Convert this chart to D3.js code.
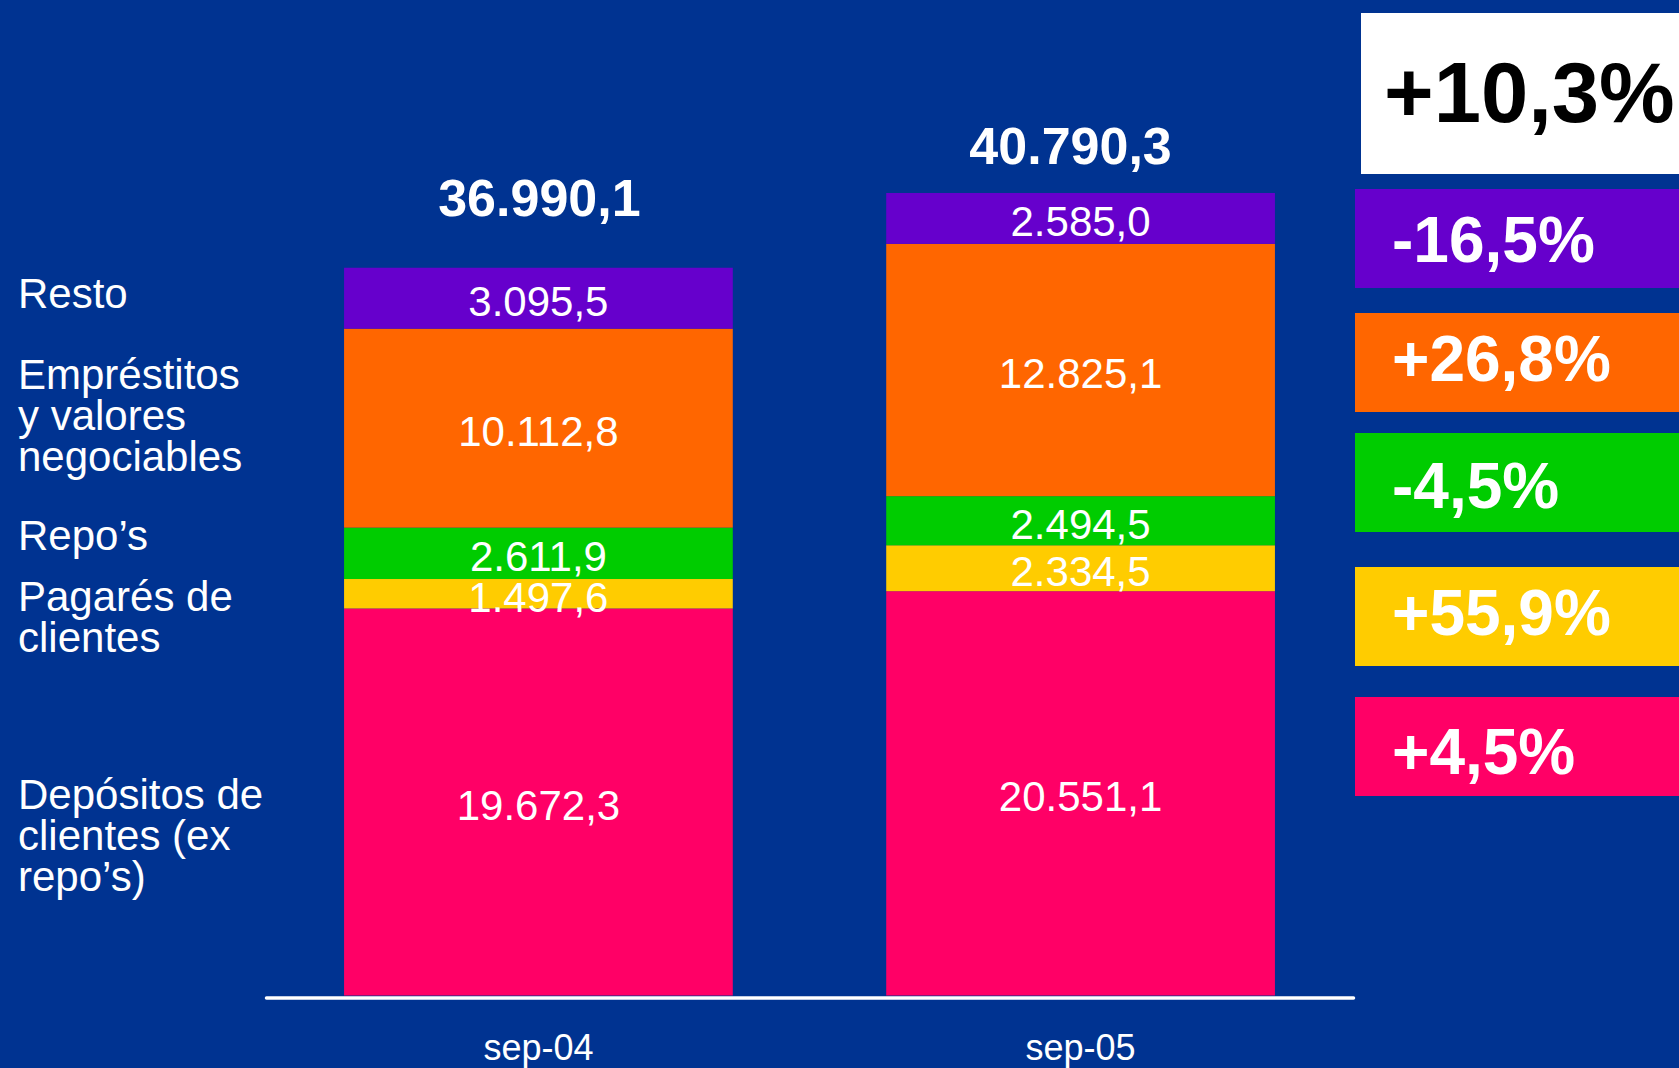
<!DOCTYPE html>
<html>
<head>
<meta charset="utf-8">
<script src="https://cdn.jsdelivr.net/npm/d3@7"></script>
<style>
html, body { margin: 0; padding: 0; background: #003391; overflow: hidden; }
svg { display: block; }
text { font-family: "Liberation Sans", Arial, Helvetica, sans-serif; }
</style>
</head>
<body>
<svg id="chart"></svg>
<script>
var width = 1679;
var height = 1068;

// data
var periods = ['sep-04', 'sep-05'];
var depositos = [19672.3, 20551.1];
var pagares = [1497.6, 2334.5];
var repos = [2611.9, 2494.5];
var emprestitos = [10112.8, 12825.1];
var resto = [3095.5, 2585.0];
var totals = [36990.1, 40790.3];

var keys = ['depositos', 'pagares', 'repos', 'emprestitos', 'resto'];
var seriesLabels = [
  ['Depósitos de', 'clientes (ex', 'repo’s)'],
  ['Pagarés de', 'clientes'],
  ['Repo’s'],
  ['Empréstitos', 'y valores', 'negociables'],
  ['Resto']
];
var changes = ['+4,5%', '+55,9%', '-4,5%', '+26,8%', '-16,5%'];
var totalChange = '+10,3%';

var colors = ['#ff0066', '#ffcc00', '#00cc00', '#ff6600', '#6600cc'];

// layout tweaks (hand placed on the original slide)
var labelShift = [7, 17, -3, -39, 10];
var totalLift = [52, 29];
var totalDx = [1, -10];
var boxTops = [697, 567, 433, 313, 189];
var boxText = [77, 68, 75, 68, 73];

var table = periods.map(function(p, i) {
  return {
    period: p,
    depositos: depositos[i],
    pagares: pagares[i],
    repos: repos[i],
    emprestitos: emprestitos[i],
    resto: resto[i]
  };
});

var series = d3.stack().keys(keys)(table);

var locale = d3.formatLocale({ decimal: ',', thousands: '.', grouping: [3], currency: ['', ' €'] });
var fmt = locale.format(',.1f');

var svg = d3.select('#chart')
    .attr('width', width)
    .attr('height', height);

svg.append('rect')
    .attr('width', width)
    .attr('height', height)
    .attr('fill', '#003391');

var xScale = d3.scaleBand()
    .domain(periods)
    .range([266, 1353])
    .paddingInner(0.283)
    .paddingOuter(0.144);

var yScale = d3.scaleLinear()
    .domain([0, d3.max(totals)])
    .range([995.5, 193]);

// stacked bars
var layer = svg.append('g')
  .selectAll('g')
  .data(series)
  .enter().append('g')
    .attr('fill', function(d, i) { return colors[i]; });

layer.selectAll('rect')
  .data(function(d) { return d; })
  .enter().append('rect')
    .attr('x', function(d) { return xScale(d.data.period); })
    .attr('y', function(d) { return yScale(d[1]); })
    .attr('width', xScale.bandwidth())
    .attr('height', function(d) { return yScale(d[0]) - yScale(d[1]); });

// segment values
layer.selectAll('text')
  .data(function(d) { return d; })
  .enter().append('text')
    .attr('x', function(d) { return xScale(d.data.period) + xScale.bandwidth() / 2; })
    .attr('y', function(d) { return yScale((d[0] + d[1]) / 2); })
    .attr('dy', '0.43em')
    .attr('text-anchor', 'middle')
    .attr('fill', '#fff')
    .attr('font-size', 42)
    .text(function(d) { return fmt(d[1] - d[0]); });

// totals
svg.append('g')
  .selectAll('text')
  .data(totals)
  .enter().append('text')
    .attr('x', function(d, i) { return xScale(periods[i]) + xScale.bandwidth() / 2 + totalDx[i]; })
    .attr('y', function(d, i) { return yScale(d) - totalLift[i]; })
    .attr('text-anchor', 'middle')
    .attr('fill', '#fff')
    .attr('font-size', 52)
    .attr('font-weight', 'bold')
    .text(function(d) { return fmt(d); });

// x axis
var axis = svg.append('g')
    .attr('transform', 'translate(0,997.5)')
    .call(d3.axisBottom(xScale).tickSize(0).tickSizeOuter(0).tickPadding(37));

axis.select('.domain')
    .attr('stroke', '#fff')
    .attr('stroke-width', 3.5)
    .attr('stroke-linecap', 'round');

axis.selectAll('.tick text')
    .attr('fill', '#fff')
    .attr('font-size', 36)
    .attr('font-family', '"Liberation Sans", Arial, sans-serif');

// category labels on the left, next to the first bar
var left = svg.append('g')
  .selectAll('text')
  .data(series)
  .enter().append('text')
    .attr('x', 18)
    .attr('y', function(d, i) { return yScale((d[0][0] + d[0][1]) / 2) + labelShift[i]; })
    .attr('fill', '#fff')
    .attr('font-size', 42);

left.selectAll('tspan')
  .data(function(d, i) { return seriesLabels[i]; })
  .enter().append('tspan')
    .attr('x', 18)
    .attr('dy', function(d, j) { return j === 0 ? 0 : 41; })
    .text(function(d) { return d; });

// change boxes on the right
var boxes = svg.append('g')
  .selectAll('g')
  .data(changes)
  .enter().append('g');

boxes.append('rect')
    .attr('x', 1355)
    .attr('y', function(d, i) { return boxTops[i]; })
    .attr('width', width - 1355)
    .attr('height', 99)
    .attr('fill', function(d, i) { return colors[i]; });

boxes.append('text')
    .attr('x', 1392)
    .attr('y', function(d, i) { return boxTops[i] + boxText[i]; })
    .attr('fill', '#fff')
    .attr('font-size', 64)
    .attr('font-weight', 'bold')
    .text(function(d) { return d; });

svg.append('rect')
    .attr('x', 1361)
    .attr('y', 13)
    .attr('width', width - 1361)
    .attr('height', 161)
    .attr('fill', '#fff');

svg.append('text')
    .attr('x', 1384)
    .attr('y', 122)
    .attr('fill', '#000')
    .attr('font-size', 85)
    .attr('font-weight', 'bold')
    .text(totalChange);
</script>
</body>
</html>
